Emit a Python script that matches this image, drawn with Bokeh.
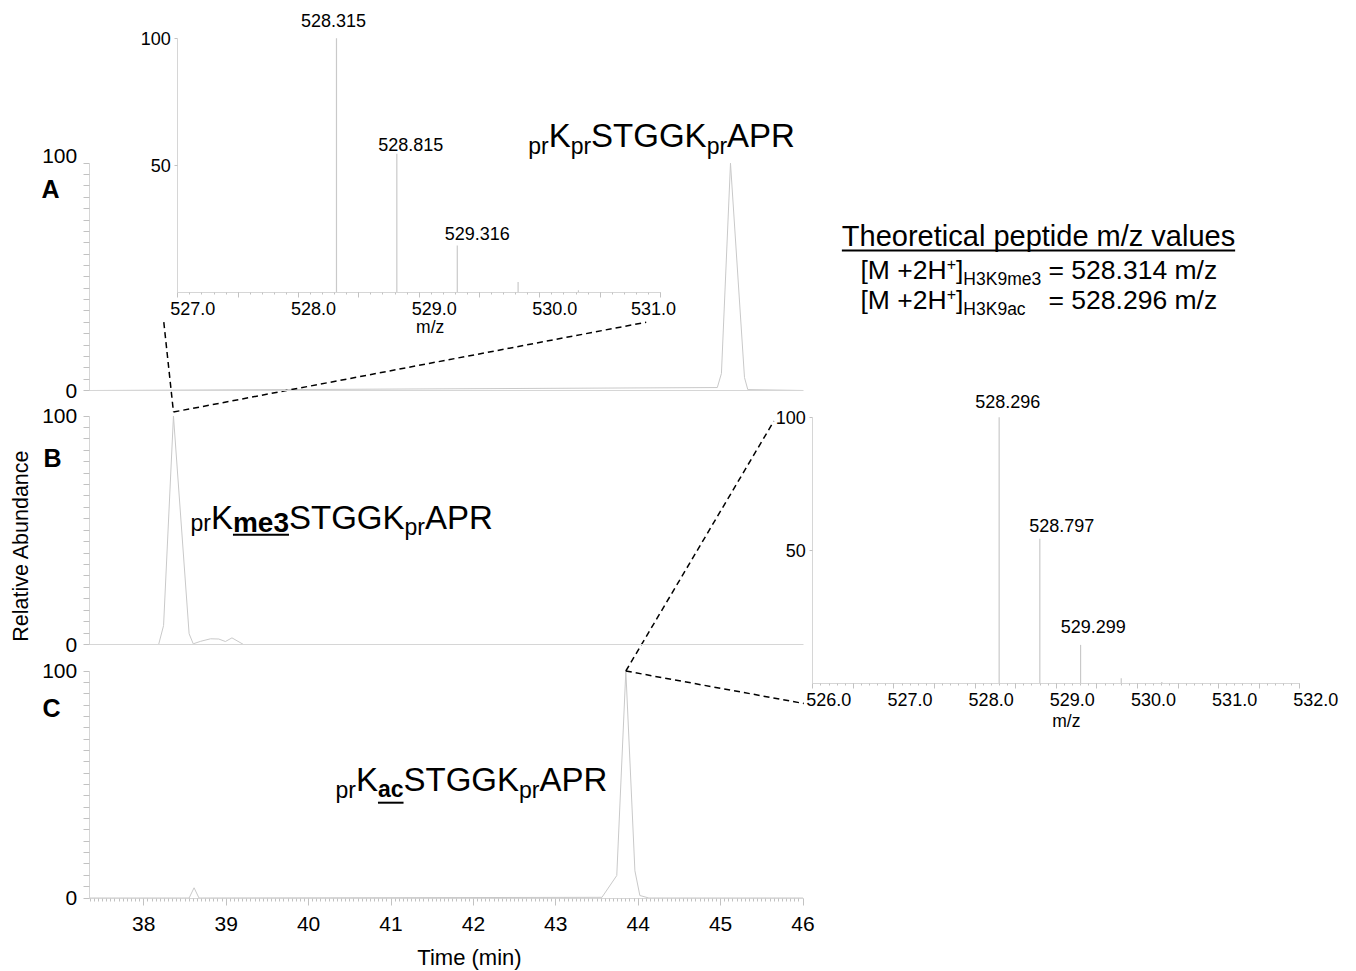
import numpy as np
from bokeh.plotting import figure
from bokeh.models import (Range1d, LinearAxis, FixedTicker, ColumnDataSource,
                          PrintfTickFormatter, CustomJSTickFormatter)
from bokeh.core.properties import value
from bokeh.embed import file_html
from bokeh.resources import INLINE

# ------------------------------------------------------------------ data
# extracted ion chromatograms (time in min, relative abundance in %)
time_a = [37.34, 44.96, 45.01, 45.12, 45.29, 45.33, 46.0]
abund_a = [0, 1.3, 7.5, 100, 5.7, 0.4, 0]

time_b = [37.34, 38.18, 38.24, 38.36, 38.55, 38.60, 38.69, 38.81, 38.91, 38.99, 39.07, 39.21, 46.0]
abund_b = [0, 0, 8.3, 100, 4.7, 0.3, 1.4, 2.5, 2.4, 1.3, 2.9, 0, 0]

time_c = [37.34, 38.55, 38.61, 38.67, 43.56, 43.74, 43.85, 43.96, 44.02, 44.13, 46.0]
abund_c = [0, 0, 4.5, 0, 0.3, 9.9, 100, 12.0, 1.1, 0, 0]

# MS1 spectra insets (m/z, relative intensity %)
mz_a = [528.315, 528.815, 529.316, 529.82, 530.32]
int_a = [100, 54.6, 18.6, 4.2, 1.0]
peak_labels_a = ["528.315", "528.815", "529.316"]

mz_b = [528.296, 528.797, 529.299, 529.80, 530.30]
int_b = [100, 54.4, 14.5, 2.0, 0.6]
peak_labels_b = ["528.296", "528.797", "529.299"]

time_ticks = [38, 39, 40, 41, 42, 43, 44, 45, 46]
abund_ticks = [0, 100]
inset_int_ticks = [50, 100]
mz_label_ticks_a = [527.0, 528.0, 529.0, 530.0]
mz_label_last_a = [531.0]
mz_label_ticks_b = [526.0, 527.0, 528.0, 529.0, 530.0, 531.0, 532.0]

theo_me3 = "528.314"
theo_ac = "528.296"

# ------------------------------------------------------------------ layout / style
W, H, M = 1348, 970, 0
FONT = "Liberation Sans"
AX_COLOR = "#d6d6d6"
TICK_COLOR = "#c2c2c2"
TRACE_COLOR = "#c9c9c9"
KBASE = 0.35   # text anchor correction (anchor sits this many em above the baseline)

# (value0, page_px0, value1, page_px1)
GEOM = {
    "t":   (38.0, 143.3, 46.0, 802.5),
    "yA":  (0.0, 390.0, 100.0, 162.7),
    "yB":  (0.0, 644.0, 100.0, 415.5),
    "yC":  (0.0, 897.5, 100.0, 670.5),
    "mzA": (527.0, 177.3, 531.0, 660.0),
    "iA":  (0.0, 292.3, 100.0, 37.7),
    "mzB": (526.0, 812.3, 532.0, 1299.3),
    "iB":  (0.0, 683.0, 100.0, 416.7),
}
def shifted(g, d):
    return (g[0], g[1] + d, g[2], g[3] + d)
GEOM["mzA_lab"] = shifted(GEOM["mzA"], 15)
GEOM["mzA_lab2"] = shifted(GEOM["mzA"], -7)
GEOM["mzB_lab"] = shifted(GEOM["mzB"], 16)
GEOM["yA_lab"] = shifted(GEOM["yA"], -7.5)

def lin(v, g):
    v0, p0, v1, p1 = g
    return p0 + (v - v0) * (p1 - p0) / (v1 - v0)

def inv(px, g):
    v0, p0, v1, p1 = g
    return v0 + (px - p0) * (v1 - v0) / (p1 - p0)

def xr(g):
    return Range1d(start=inv(M, g), end=inv(M + W, g))

def yr(g):
    return Range1d(start=inv(M + H, g), end=inv(M, g))

p = figure(width=W, height=H, x_range=Range1d(M, M + W), y_range=Range1d(M + H, M),
           x_axis_type=None, y_axis_type=None, output_backend="svg",
           toolbar_location=None, min_border=0, outline_line_color=None,
           background_fill_color="white", border_fill_color="white")

p.extra_x_ranges = {k: xr(GEOM[k]) for k in ["t", "mzA", "mzB", "mzA_lab", "mzA_lab2", "mzB_lab"]}
p.extra_y_ranges = {k: yr(GEOM[k]) for k in ["yA", "yB", "yC", "iA", "iB", "yA_lab"]}

T_AXIS = inv(88.7, GEOM["t"])
T_END = 46.0

# ------------------------------------------------------------------ marks
for ts, ab, yn in [(time_a, abund_a, "yA"), (time_b, abund_b, "yB"), (time_c, abund_c, "yC")]:
    p.line(ts, ab, x_range_name="t", y_range_name=yn, line_color=TRACE_COLOR, line_width=1)

for mz, it, xn, yn in [(mz_a, int_a, "mzA", "iA"), (mz_b, int_b, "mzB", "iB")]:
    p.segment(x0=mz, y0=[0] * len(mz), x1=mz, y1=it, x_range_name=xn, y_range_name=yn,
              line_color=TRACE_COLOR, line_width=1.2)

# ------------------------------------------------------------------ axes
def add_axis(side, xn, yn, loc, ticks, minor=None, bounds="auto", labels=True, line=True,
             show_ticks=True, tick_out=5, minor_out=3, standoff=5, size="18px", fmt=None):
    ax = LinearAxis(x_range_name=xn, y_range_name=yn, fixed_location=loc, bounds=bounds,
                    ticker=FixedTicker(ticks=list(ticks), minor_ticks=list(minor or [])),
                    major_tick_in=0, major_tick_out=tick_out,
                    minor_tick_in=0, minor_tick_out=minor_out,
                    major_label_standoff=standoff, major_label_text_font=FONT,
                    major_label_text_font_size=size, major_label_text_color="black",
                    axis_line_color=AX_COLOR if line else None, axis_line_width=1,
                    major_tick_line_color=TICK_COLOR if show_ticks else None,
                    minor_tick_line_color=TICK_COLOR if show_ticks else None)
    if fmt is not None:
        ax.formatter = fmt
    if not labels:
        ax.formatter = CustomJSTickFormatter(code="return ''")
    p.add_layout(ax, side)
    return ax

minor_abund = [v for v in range(5, 100, 5)]
minor_time = [round(37.35 + 0.05 * i, 2) for i in range(int((T_END - 37.35) / 0.05) + 1)]
minor_time = [v for v in minor_time if abs(v - round(v)) > 1e-6]

# chromatogram y axes
add_axis("left", "t", "yA", T_AXIS, [0], minor_abund + [100], bounds=(0, 100),
         tick_out=6, minor_out=6, standoff=6, size="21px")
add_axis("left", "t", "yA_lab", T_AXIS, [100], line=False, show_ticks=False,
         tick_out=6, standoff=6, size="21px")
for yn in ["yB", "yC"]:
    add_axis("left", "t", yn, T_AXIS, abund_ticks, minor_abund, bounds=(0, 100),
             tick_out=6, minor_out=6, standoff=6, size="21px")
# chromatogram x axes
for yn in ["yA", "yB"]:
    add_axis("below", "t", yn, 0, [], bounds=(T_AXIS, T_END), labels=False)
add_axis("below", "t", "yC", 0, time_ticks, minor_time, bounds=(T_AXIS, T_END),
         tick_out=7, minor_out=3, standoff=12, size="21px")

# inset axes
for xn, yn, lo, hi, labn, labticks, shift_lab in [
        ("mzA", "iA", 527.0, 531.0, "mzA_lab", mz_label_ticks_a, "mzA_lab2"),
        ("mzB", "iB", 526.0, 532.0, "mzB_lab", mz_label_ticks_b, None)]:
    add_axis("left", xn, yn, lo, inset_int_ticks, bounds=(0, 100), tick_out=3,
             standoff=4, size="18px")
    majors = [lo + 0.5 * i for i in range(int((hi - lo) / 0.5) + 1)]
    minors = [round(lo + 0.1 * i, 2) for i in range(int(round((hi - lo) / 0.1)) + 1)]
    add_axis("below", xn, yn, 0, majors, minors, bounds=(lo, hi), labels=False,
             tick_out=5, minor_out=2)
    add_axis("below", labn, yn, 0, labticks, line=False, show_ticks=False, tick_out=0,
             standoff=9, size="18px", fmt=PrintfTickFormatter(format="%.1f"))
    if shift_lab:
        add_axis("below", shift_lab, yn, 0, mz_label_last_a, line=False, show_ticks=False,
                 tick_out=0, standoff=9, size="18px", fmt=PrintfTickFormatter(format="%.1f"))

# ------------------------------------------------------------------ text helpers
W_REG = {' ': 278, '(': 333, ')': 333, '+': 584, '.': 278, '/': 278, '=': 584, '[': 278,
         ']': 278, 'A': 667, 'B': 667, 'C': 722, 'G': 778, 'H': 722, 'K': 667, 'M': 833,
         'P': 667, 'R': 722, 'S': 667, 'T': 611, 'a': 556, 'b': 556, 'c': 500, 'd': 556,
         'e': 556, 'h': 556, 'i': 222, 'l': 222, 'm': 833, 'n': 556, 'o': 556, 'p': 556,
         'r': 333, 's': 500, 't': 278, 'u': 556, 'v': 500, 'z': 500}
W_BOLD = {'a': 556, 'c': 556, 'e': 556, 'm': 889}

def tw(s, size, bold=False):
    tbl = W_BOLD if bold else W_REG
    return sum(tbl.get(ch, 556) for ch in s) * size / 1000.0

TXT = dict(x=[], y=[], text=[], size=[], style=[], align=[])
UL = dict(x0=[], x1=[], y=[])

def put(x, baseline, s, size, bold=False, align="left"):
    TXT["x"].append(x); TXT["y"].append(baseline - KBASE * size); TXT["text"].append(s)
    TXT["size"].append("%.1fpx" % size); TXT["style"].append("bold" if bold else "normal")
    TXT["align"].append(align)

def rich(x, y, parts):
    for part in parts:
        s, size, bold, dy = part[:4]
        ul = part[4] if len(part) > 4 else None
        lead = len(s) - len(s.lstrip(" "))
        x += tw(" " * lead, size, bold)
        s = s.lstrip(" ")
        put(x, y + dy, s, size, bold)
        w = tw(s, size, bold)
        if ul is not None:
            UL["x0"].append(x); UL["x1"].append(x + w); UL["y"].append(y + ul)
        x += w
    return x

# peptide labels
rich(527.7, 147.0, [("pr", 23, False, 7), ("K", 33, False, 0), ("pr", 23, False, 7),
                    ("STGGK", 33, False, 0), ("pr", 23, False, 7), ("APR", 33, False, 0)])
rich(190.0, 528.3, [("pr", 23, False, 2), ("K", 33, False, 0), ("me3", 28, True, 3.5, 6),
                    ("STGGK", 33, False, 0), ("pr", 23, False, 6), ("APR", 33, False, 0)])
rich(335.0, 790.7, [("pr", 23, False, 7), ("K", 33, False, 0), ("ac", 23, True, 6, 11.5),
                    ("STGGK", 33, False, 0), ("pr", 23, False, 7), ("APR", 33, False, 0)])

# theoretical values box
title = "Theoretical peptide m/z values"
tw_title = tw(title, 29)
tx0 = 1038 - tw_title / 2
put(tx0, 246, title, 29)
UL["x0"].append(tx0); UL["x1"].append(tx0 + tw_title); UL["y"].append(250)

F2, FS, FB = 26.5, 16, 17.5
x = rich(860, 279, [("[M +2H", F2, False, 0), ("+", FS, False, -10), ("]", F2, False, 0),
                    ("H3K9me3", FB, False, 6)])
x_eq = x + tw(" ", F2)
rich(x, 279, [(" = " + theo_me3 + " m/z", F2, False, 0)])
rich(860, 309, [("[M +2H", F2, False, 0), ("+", FS, False, -10), ("]", F2, False, 0),
                ("H3K9ac", FB, False, 6)])
rich(x_eq, 309, [("= " + theo_ac + " m/z", F2, False, 0)])

# panel letters
put(41, 197, "A", 25, True)
put(43, 466, "B", 25, True)
put(42, 716, "C", 25, True)

# axis titles
put(469, 965, "Time (min)", 22, align="center")
put(lin(529.0, GEOM["mzA_lab"]) - 4, 333, "m/z", 17.5, align="center")
put(lin(529.0, GEOM["mzB_lab"]) - 6, 727, "m/z", 17.5, align="center")

# peak labels (offsets in px: dx, gap above stick top)
for mz, it, labs, xg, yg, offs in [
        (mz_a, int_a, peak_labels_a, GEOM["mzA"], GEOM["iA"], [(-3, 11), (14, 3.3), (20, 5.7)]),
        (mz_b, int_b, peak_labels_b, GEOM["mzB"], GEOM["iB"], [(8.5, 9), (22, 7), (12.7, 12)])]:
    for k, lab in enumerate(labs):
        put(lin(mz[k], xg) + offs[k][0], lin(it[k], yg) - offs[k][1], lab, 18, align="center")

src = ColumnDataSource(TXT)
p.text(x="x", y="y", text="text", source=src, text_font=value(FONT),
       text_font_size="size", text_font_style="style", text_align="align",
       text_baseline="alphabetic", text_color="black")

p.text(x=[20.5], y=[545], text=["Relative Abundance"], angle=np.pi / 2,
       text_font=value(FONT), text_font_size="21.5px", text_align="center",
       text_baseline="alphabetic", text_color="black")

p.segment(x0="x0", y0="y", x1="x1", y1="y", source=ColumnDataSource(UL),
          line_color="black", line_width=2)

# zoom connectors (dashed): from chromatogram apex to inset corners
iB_apex = int(np.argmax(abund_b))
iC_apex = int(np.argmax(abund_c))
bx, by = lin(time_b[iB_apex], GEOM["t"]), lin(abund_b[iB_apex], GEOM["yB"]) - 4
cx, cy = lin(time_c[iC_apex], GEOM["t"]), lin(abund_c[iC_apex], GEOM["yC"])
insetA_left = (lin(527.0, GEOM["mzA"]) - 14, lin(0, GEOM["iA"]) + 29.4)
insetA_right = (lin(531.0, GEOM["mzA"]) - 14.3, lin(0, GEOM["iA"]) + 29.4)
insetB_top = (lin(526.0, GEOM["mzB"]) - 39, lin(100, GEOM["iB"]) + 4)
insetB_bot = (lin(526.0, GEOM["mzB"]) - 9, lin(0, GEOM["iB"]) + 20)
con = dict(x0=[insetA_left[0], bx, cx, cx], y0=[insetA_left[1], by, cy, cy],
           x1=[bx, insetA_right[0], insetB_top[0], insetB_bot[0]],
           y1=[by, insetA_right[1], insetB_top[1], insetB_bot[1]])
p.segment(x0="x0", y0="y0", x1="x1", y1="y1", source=ColumnDataSource(con),
          line_color="black", line_width=1.5, line_dash="6 4")

open("out.html", "w").write(file_html(p, INLINE))
